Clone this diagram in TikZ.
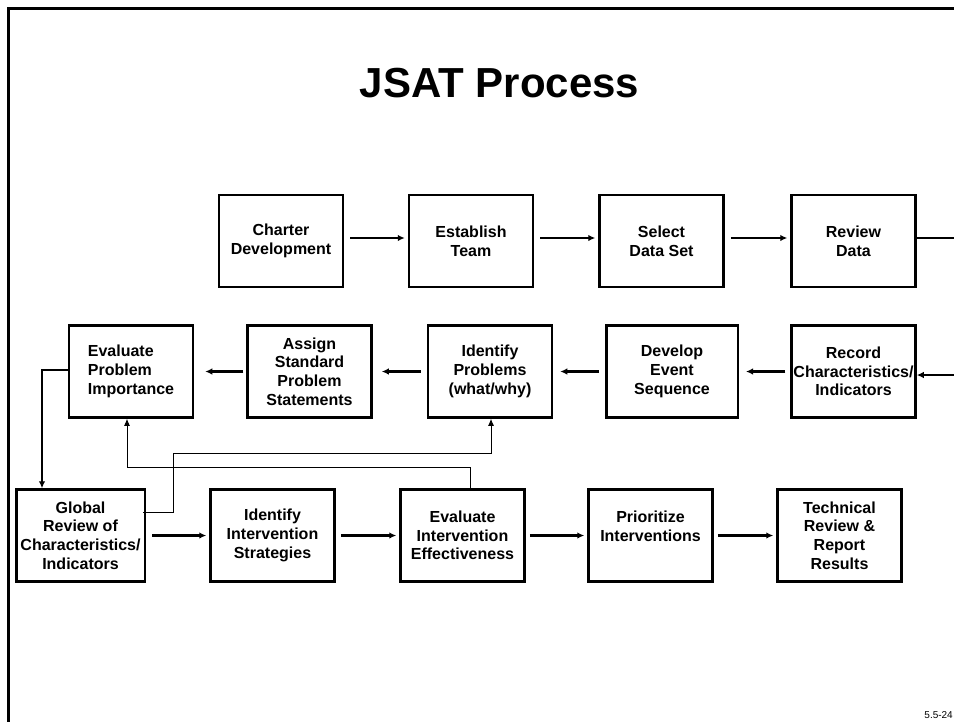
\documentclass[tikz,border=0pt]{standalone}
\usepackage{fontspec}
\setmainfont{Liberation Sans}
\usetikzlibrary{arrows.meta}
\begin{document}
\begin{tikzpicture}[x=1pt,y=-1pt,
  box/.style={draw, line width=2.5pt, minimum width=124pt, minimum height=92pt,
    inner sep=0pt, align=center, font=\bfseries\fontsize{16}{18.7}\selectfont},
  flow/.style={line width=2.2pt, -{Latex[length=7pt,width=6.5pt]}},
  thinflow/.style={line width=1pt, -{Latex[length=7pt,width=6pt]}},
  frame/.style={line width=2.5pt}]
\useasboundingbox (0,0) rectangle (954,721);
% frame
\coordinate (fa) at (8.7,730);
\coordinate (fb) at (8.7,8.7);
\coordinate (fc) at (960,8.7);
\draw[frame] (fa) -- (fb) -- (fc);
% title
\node[anchor=base, font=\bfseries\fontsize{42}{50}\selectfont, inner sep=0pt] (title) at (499.5,97) {JSAT Process};
% top row
\node[box] (cha) at (281,241) {Charter\\Development};
\node[box] (est) at (471,241) {Establish\\Team};
\node[box] (sel) at (661.5,241) {Select\\Data Set};
\node[box] (rev) at (853.5,241) {Review\\Data};
% middle row
\node[box, align=left] (epi) at (131,371.5) {Evaluate\\Problem\\Importance};
\node[box] (asp) at (309.5,371.5) {Assign\\Standard\\Problem\\Statements};
\node[box] (idp) at (490,371.5) {Identify\\Problems\\(what/why)};
\node[box, minimum width=131.5pt] (dev) at (672,371.5) {Develop\\Event\\Sequence};
\node[box] (rec) at (853.5,371.5) {Record\\Characteristics/\\Indicators};
% bottom row
\node[box, minimum width=128.5pt] (glo) at (80.5,535.5) {Global\\Review of\\Characteristics/\\Indicators};
\node[box] (iis) at (272.5,535.5) {Identify\\Intervention\\Strategies};
\node[box] (eie) at (462.5,535.5) {Evaluate\\Intervention\\Effectiveness};
\node[box] (pri) at (650.5,535.5) {Prioritize\\Interventions\\\phantom{X}};
\node[box] (tec) at (839.5,535.5) {Technical\\Review \&\\Report\\Results};
% page number
\node[anchor=base east, font=\fontsize{10}{12}\selectfont, inner sep=0pt] (pg) at (953,718) {5.5-24};
% top row arrows
\draw[flow, shorten <=6pt, shorten >=3pt] ([yshift=3pt]cha.east) -- ([yshift=3pt]est.west);
\draw[flow, shorten <=6pt, shorten >=3pt] ([yshift=3pt]est.east) -- ([yshift=3pt]sel.west);
\draw[flow, shorten <=6pt, shorten >=3pt] ([yshift=3pt]sel.east) -- ([yshift=3pt]rev.west);
\coordinate (outR) at (960,238);
\draw[line width=2.2pt] ([yshift=3pt]rev.east) -- (outR);
\coordinate (inR) at (960,375);
\draw[flow] (inR) -- ([yshift=-3.5pt]rec.east);
% middle row arrows
\draw[flow, shorten <=5pt, shorten >=7pt] (rec.west) -- (dev.east);
\draw[flow, shorten <=6pt, shorten >=7pt] (dev.west) -- (idp.east);
\draw[flow, shorten <=6pt, shorten >=9pt] (idp.west) -- (asp.east);
\draw[flow, shorten <=3pt, shorten >=11pt] (asp.west) -- (epi.east);
% evaluate problem importance -> global review
\draw[flow] ([yshift=1.5pt]epi.west) -| ([xshift=-38.5pt]glo.north);
% bottom row arrows
\draw[flow, shorten <=6pt, shorten >=3pt] (glo.east) -- (iis.west);
\draw[flow, shorten <=5pt, shorten >=3pt] (iis.east) -- (eie.west);
\draw[flow, shorten <=4pt, shorten >=3pt] (eie.east) -- (pri.west);
\draw[flow, shorten <=4pt, shorten >=3pt] (pri.east) -- (tec.west);
% thin feedback connectors
\coordinate (t1) at (173,453);
\draw[thinflow] ([yshift=23.5pt, xshift=-3pt]glo.east) -| (t1) -| ([xshift=1pt]idp.south);
\coordinate (t2) at (470,467);
\draw[thinflow] ([xshift=7.5pt]eie.north) -- (t2) -| ([xshift=-4pt]epi.south);
\end{tikzpicture}
\end{document}
